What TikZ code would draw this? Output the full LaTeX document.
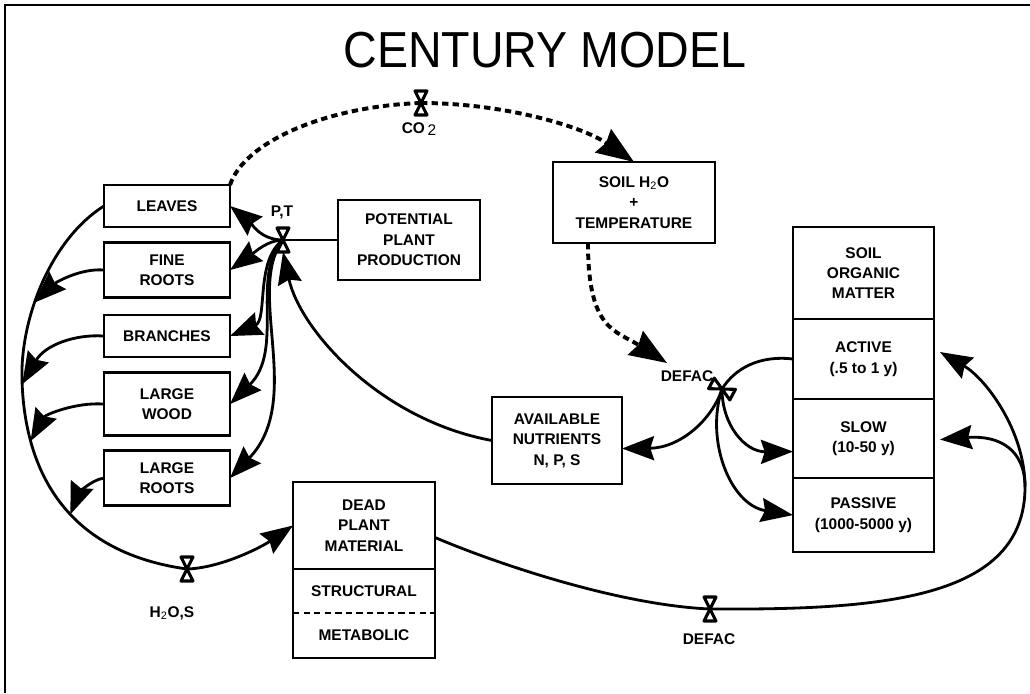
\documentclass[tikz,border=0pt]{standalone}
\usepackage{fontspec}
\setmainfont{Liberation Sans}
\usetikzlibrary{arrows.meta, positioning, calc}
\tikzstyle{pool} = [rectangle, draw=black, line width=2pt, inner sep=0pt, outer sep=0pt, align=center, font=\bfseries\fontsize{11}{14.5}\selectfont]
\tikzstyle{compartment} = [rectangle, inner sep=0pt, outer sep=0pt, minimum width=3.55cm, align=center, font=\bfseries\fontsize{11}{14.5}\selectfont]
\tikzstyle{tag} = [inner sep=1pt, font=\bfseries\fontsize{11}{14.5}\selectfont]
\tikzstyle{valve} = [rectangle, minimum width=0.3cm, minimum height=0.6cm, inner sep=0pt, outer sep=0pt]
\tikzstyle{hourglass} = [line width=2.2pt, fill=white, line join=round]
\tikzstyle{line} = [line width=2pt]
\tikzset{arrow/.style={line width=2pt, -{Stealth[inset=0.5mm, scale=1.9]}}}
\tikzstyle{info} = [line width=2.8pt, dash pattern=on 4.5pt off 3pt]
\tikzset{infoarrow/.style={info, -{Stealth[inset=0.5mm, scale=1.7]}}}

\begin{document}
\begin{tikzpicture}[x=0.025cm, y=-0.025cm, node distance=1.6cm]
	\useasboundingbox (0,0) rectangle (1030,693);
	\draw [line width=1.4pt] (5,693) -- (5,5) -- (1030,5);

	\node (title) at (545,50) {\fontsize{36}{40}\selectfont\scalebox{0.92}[1]{CENTURY MODEL}};

	% plant parts
	\node (leaves) [pool, minimum width=3.15cm, minimum height=1.05cm] at (167,206) {LEAVES};
	\node (fine) [pool, below of=leaves, minimum width=3.15cm, minimum height=1.375cm] {FINE\\ROOTS};
	\node (branches) [pool, below of=fine, yshift=-0.05cm, minimum width=3.15cm, minimum height=1.05cm] {BRANCHES};
	\node (wood) [pool, below of=branches, yshift=-0.1cm, minimum width=3.15cm, minimum height=1.575cm] {LARGE\\WOOD};
	\node (roots) [pool, below of=wood, yshift=-0.25cm, minimum width=3.15cm, minimum height=1.375cm] {LARGE\\ROOTS};

	\node (potential) [pool, minimum width=3.55cm, minimum height=2cm] at (409,240) {POTENTIAL\\PLANT\\PRODUCTION};
	\node (soil) [pool, minimum width=4.05cm, minimum height=2.025cm] at (634,202.5) {SOIL H\textsubscript{\mdseries 2}O\\+\\TEMPERATURE};
	\node (nutrients) [pool, minimum width=3.25cm, minimum height=2.175cm] at (557,440.5) {AVAILABLE\\NUTRIENTS\\N, P, S};

	% dead plant material
	\node (dead) [pool, minimum width=3.55cm, minimum height=2.175cm] at (364,525.5) {DEAD\\PLANT\\MATERIAL};
	\node (struct) [compartment, below=0pt of dead, minimum height=1.1cm] {STRUCTURAL};
	\node (metab) [compartment, below=0pt of struct, minimum height=1.125cm] {METABOLIC};
	\draw [line] (struct.north west) rectangle (metab.south east);
	\draw [line, dash pattern=on 4.5pt off 3pt] (struct.south west) -- (struct.south east);

	% soil organic matter
	\node (som) [pool, minimum width=3.525cm, minimum height=2.3cm] at (863.5,273) {SOIL\\ORGANIC\\MATTER};
	\node (active) [pool, below=0pt of som, minimum width=3.525cm, minimum height=2cm] {ACTIVE\\(.5 to 1 y)};
	\node (slow) [pool, below=0pt of active, minimum width=3.525cm, minimum height=1.975cm] {SLOW\\(10-50 y)};
	\node (passive) [pool, below=0pt of slow, minimum width=3.525cm, minimum height=1.85cm] {PASSIVE\\(1000-5000 y)};

	% valves and their labels
	\node (vPT) [valve] at (283,240) {};
	\node (vCO) [valve] at (421,103) {};
	\node (vDEF) [valve, rotate=62] at (722,389) {};
	\node (vH2O) [valve] at (187,569) {};
	\node (vDEF2) [valve] at (710,609) {};
	\node (lPT) [tag] at (282,212) {P,T};
	\node (lCO) [tag] at (419,129) {CO\,\raisebox{-1.5pt}{\mdseries 2}};
	\node (lDEF) [tag] at (687,376) {DEFAC};
	\node (lH2O) [tag] at (172,613) {H\textsubscript{\mdseries 2}O,S};
	\node (lDEF2) [tag] at (709,639) {DEFAC};
	\coordinate (defIn) at (667,363);

	% CO2 and DEFAC information links
	\draw [info] (leaves.north east) .. controls (245,140) and (330,106) .. (vCO.center);
	\draw [infoarrow] (vCO.center) .. controls (500,103) and (580,125) .. (soil.north);
	\draw [infoarrow] ([xshift=-1.15cm]soil.south) .. controls (588,330) and (615,330) .. (defIn);

	% production
	\draw [line] (potential.west) -- (vPT.center);
	\draw [arrow] (vPT.center) .. controls (260,240) and (250,222) .. (leaves.east);
	\draw [arrow] (vPT.center) .. controls (268,240) and (255,252) .. (fine.east);
	\draw [arrow] (vPT.center) .. controls (255,260) and (268,320) .. (branches.east);
	\draw [arrow] (vPT.center) .. controls (250,275) and (285,350) .. (wood.east);
	\draw [arrow] (vPT.center) .. controls (245,290) and (305,400) .. (roots.east);
	\draw [arrow] (nutrients.west) .. controls (380,420) and (300,330) .. (vPT.south);

	% litter fall
	\draw [line] (leaves.west) .. controls (50,240) and (20,320) .. coordinate[pos=0.6] (aFine) (22,380)
		.. controls (24,450) and (50,550) .. coordinate[pos=0.02] (aBranch) coordinate[pos=0.27] (aWood) coordinate[pos=0.6] (aRoots) (vH2O.center);
	\draw [arrow] (vH2O.center) .. controls (220,568) and (260,548) .. (dead.west);
	\draw [arrow] (fine.west) .. controls (80,268) and (55,283) .. (aFine);
	\draw [arrow] (branches.west) .. controls (75,334) and (45,345) .. (aBranch);
	\draw [arrow] (wood.west) .. controls (75,402) and (45,415) .. (aWood);
	\draw [arrow] (roots.west) .. controls (90,480) and (78,495) .. (aRoots);

	% decomposition
	\draw [line] (active.west) .. controls (760,355) and (735,368) .. (vDEF.center);
	\draw [arrow] (vDEF.center) .. controls (712,420) and (680,448) .. ($(nutrients.east)+(0,8)$);
	\draw [arrow] (vDEF.center) .. controls (722,425) and (745,452) .. ($(slow.west)+(0,13)$);
	\draw [arrow] (vDEF.center) .. controls (705,440) and (730,505) .. (passive.west);

	\draw [line] ($(dead.east)+(0,12)$) .. controls (500,565) and (620,605) .. (vDEF2.center);
	\draw [line] (vDEF2.center) .. controls (880,610) and (1025,600) .. (1025,487) coordinate (split);
	\draw [arrow] (split) .. controls (1025,430) and (985,378) .. ($(active.east)+(6,-7)$);
	\draw [arrow] (split) .. controls (1025,450) and (1000,435) .. ($(slow.east)+(6,1)$);

	\foreach \v in {vPT, vCO, vDEF, vH2O, vDEF2}
		\draw [hourglass] (\v.north west) -- (\v.north east) -- (\v.south west) -- (\v.south east) -- cycle;
\end{tikzpicture}
\end{document}
